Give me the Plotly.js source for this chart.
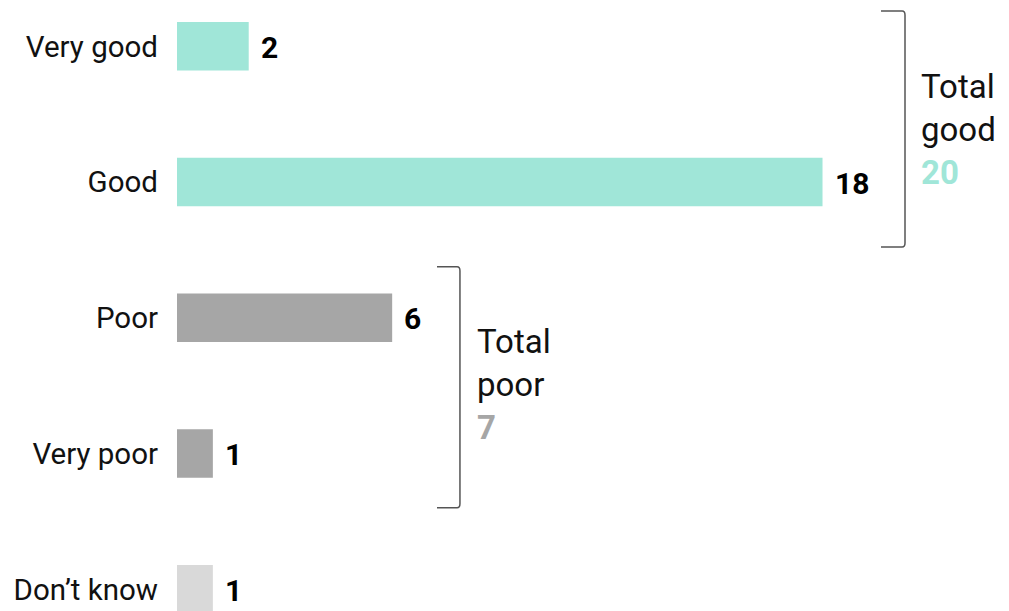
<!DOCTYPE html>
<html>
<head>
<meta charset="utf-8">
<script src="https://cdn.plot.ly/plotly-3.0.1.min.js"></script>
<style>
  html, body { margin: 0; padding: 0; background: #fff; }
  #chart { width: 1009px; height: 611px; }
</style>
</head>
<body>
<div id="chart"></div>
<script>
// ---- data ----
const categories = ["Very good", "Good", "Poor", "Very poor", "Don\u2019t know"];
const values = [2, 18, 6, 1, 1];
const groups = ["good", "good", "poor", "poor", "dk"];
const groupLabels = { good: "Total<br>good", poor: "Total<br>poor" };

// ---- styles ----
const colors = { good: "#a0e6d8", poor: "#a6a6a6", dk: "#d9d9d9" };
const barColors = groups.map(g => colors[g]);
const totalGood = values.filter((v, i) => groups[i] === "good").reduce((a, b) => a + b, 0);
const totalPoor = values.filter((v, i) => groups[i] === "poor").reduce((a, b) => a + b, 0);

const FONT = "Roboto, 'Open Sans', sans-serif";

const trace = {
  type: "bar",
  orientation: "h",
  y: categories,
  x: values,
  width: 0.357,
  marker: { color: barColors, line: { width: 0 } },
  hoverinfo: "skip"
};

// value labels
const valueAnn = values.map((v, i) => ({
  x: v, y: categories[i], xref: "x", yref: "y",
  text: "<b>" + v + "</b>", showarrow: false,
  xanchor: "left", yanchor: "middle", xshift: 10, yshift: -1,
  font: { family: FONT, size: 30, color: "#000" }
}));

function bracketPath(x0, x1, yt, yb) {
  const ex = 0.08, ey = 0.03;
  return `M ${x0} ${yt} L ${x1 - ex} ${yt} Q ${x1} ${yt} ${x1} ${yt + ey} ` +
         `L ${x1} ${yb - ey} Q ${x1} ${yb} ${x1 - ex} ${yb} L ${x0} ${yb}`;
}

const layout = {
  width: 1009, height: 611,
  margin: { l: 177, r: 0, t: 0, b: 0, pad: 0 },
  paper_bgcolor: "#fff", plot_bgcolor: "#fff",
  showlegend: false,
  xaxis: { range: [0, 23.2], visible: false, fixedrange: true },
  yaxis: {
    type: "category",
    range: [4.160, -0.3407],
    showgrid: false, zeroline: false, showline: false, ticks: "",
    ticklabelstandoff: 18,
    tickfont: { family: FONT, size: 29.5, color: "#111" },
    fixedrange: true
  },
  shapes: [
    { type: "path", xref: "x", yref: "y", path: bracketPath(19.63, 20.3, -0.26, 1.479),
      line: { color: "#555", width: 1.5 } },
    { type: "path", xref: "x", yref: "y", path: bracketPath(7.25, 7.89, 1.624, 3.40),
      line: { color: "#555", width: 1.5 } }
  ],
  annotations: valueAnn.concat([
    { x: 20.69, y: 0.61, xref: "x", yref: "y", xanchor: "left", yanchor: "middle", align: "left",
      showarrow: false,
      text: groupLabels.good + "<br><b><span style='color:" + colors.good + "'>" + totalGood + "</span></b>",
      font: { family: FONT, size: 33, color: "#111" } },
    { x: 8.31, y: 2.49, xref: "x", yref: "y", xanchor: "left", yanchor: "middle", align: "left",
      showarrow: false,
      text: groupLabels.poor + "<br><b><span style='color:" + colors.poor + "'>" + totalPoor + "</span></b>",
      font: { family: FONT, size: 33, color: "#111" } }
  ])
};

Plotly.newPlot("chart", [trace], layout, { displayModeBar: false, staticPlot: true });
</script>
</body>
</html>
